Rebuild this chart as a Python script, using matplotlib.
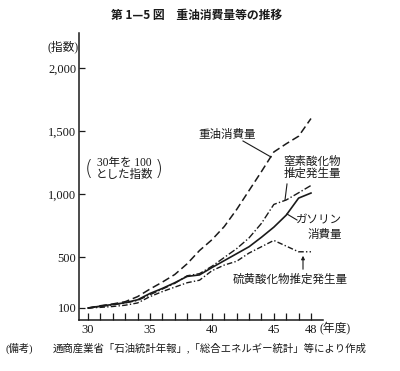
import matplotlib
matplotlib.use("Agg")
import matplotlib.pyplot as plt
from matplotlib.lines import Line2D

plt.rcParams['font.family'] = ['Liberation Serif', 'Noto Sans CJK JP', 'DejaVu Sans']

years = list(range(30, 49))
heavy_oil = [100, 118, 132, 150, 190, 250, 305, 365, 450, 555, 640, 745, 880, 1030, 1180, 1335, 1400, 1460, 1600]
gasoline = [100, 115, 128, 142, 165, 215, 255, 300, 350, 362, 420, 475, 530, 585, 660, 740, 835, 970, 1010]
nox = [100, 112, 125, 140, 160, 205, 250, 295, 355, 372, 430, 500, 570, 655, 770, 920, 955, 1012, 1070]
sulfur = [100, 105, 112, 122, 140, 190, 230, 265, 300, 320, 395, 440, 470, 535, 585, 635, 590, 545, 545]

ytick_vals = [100, 500, 1000, 1500, 2000]
ytick_labels = ["100", "500", "1,000", "1,500", "2,000"]
xtick_labels = {30: "30", 35: "35", 40: "40", 45: "45", 48: "48"}

W, H = 400, 371
fig = plt.figure(figsize=(W / 100, H / 100), dpi=100)
ax = fig.add_axes([79 / W, 1 - 320 / H, (323 - 79) / W, (320 - 33) / H])

ink = '#1a1a1a'
ax.plot(years, heavy_oil, color=ink, lw=1.1, dashes=(5, 2.5))
ax.plot(years, gasoline, color=ink, lw=1.2, ls='-')
ax.plot(years, nox, color=ink, lw=1.0, dashes=(5, 1.6, 1, 1.6))
ax.plot(years, sulfur, color=ink, lw=1.0, dashes=(4, 1.6, 1, 1.6))

ax.set_xlim(29.27, 48.97)
ax.set_ylim(5, 2277)
for s in ['top', 'right']:
    ax.spines[s].set_visible(False)
for s in ['left', 'bottom']:
    ax.spines[s].set_color(ink)
    ax.spines[s].set_linewidth(1.1)

ax.set_yticks(ytick_vals)
ax.set_yticklabels(ytick_labels, fontsize=9)
ax.set_xticks(years)
ax.set_xticklabels([xtick_labels.get(y, "") for y in years], fontsize=9)
ax.tick_params(axis='both', direction='in', length=4, width=0.9, color=ink, labelcolor=ink, pad=2)
ax.tick_params(axis='x', length=5, pad=3)


def ft(px, py, s, **kw):
    fig.text(px / W, 1 - py / H, s, color=ink, **kw)


def fl(p1, p2, **kw):
    fig.add_artist(Line2D([p1[0] / W, p2[0] / W], [1 - p1[1] / H, 1 - p2[1] / H],
                          transform=fig.transFigure, color=ink, lw=0.8, **kw))


ft(197, 15, "第 1—5 図　重油消費量等の推移", ha='center', va='center', fontsize=8.5,
   family=['Noto Sans CJK JP'], weight='bold')
ft(63, 47, "(指数)", ha='center', va='center', fontsize=8.5)
ft(320, 329, "(年度)", ha='left', va='center', fontsize=8.5)

ft(227, 135, "重油消費量", ha='center', va='center', fontsize=8.3)
fl((243, 141), (271, 157))

ft(312, 162, "窒素酸化物", ha='center', va='center', fontsize=8.3)
ft(312, 174, "推定発生量", ha='center', va='center', fontsize=8.3)
fl((287, 184), (285, 200))

ft(342, 220, "ガソリン", ha='right', va='center', fontsize=8.3)
ft(342, 235, "消費量", ha='right', va='center', fontsize=8.3)
fl((287, 214), (297, 220))

ft(290, 280, "硫黄酸化物推定発生量", ha='center', va='center', fontsize=8.3)
fig.add_artist(matplotlib.patches.FancyArrowPatch(
    (303 / W, 1 - 272 / H), (303 / W, 1 - 253 / H), transform=fig.transFigure,
    arrowstyle='-|>', mutation_scale=5, color=ink, lw=0.8))

ft(124, 163, "30年を 100", ha='center', va='center', fontsize=8.3)
ft(124, 175, "とした指数", ha='center', va='center', fontsize=8.3)
ft(89, 169, "(", ha='center', va='center', fontsize=15, family=['DejaVu Sans'], weight='light')
ft(159, 169, ")", ha='center', va='center', fontsize=15, family=['DejaVu Sans'], weight='light')

ft(5, 348, "(備考)", ha='left', va='center', fontsize=7.5)
ft(53, 348, "通商産業省「石油統計年報」,「総合エネルギー統計」等により作成", ha='left', va='center', fontsize=7.5)

fig.savefig("out.png", dpi=100, facecolor='white')
